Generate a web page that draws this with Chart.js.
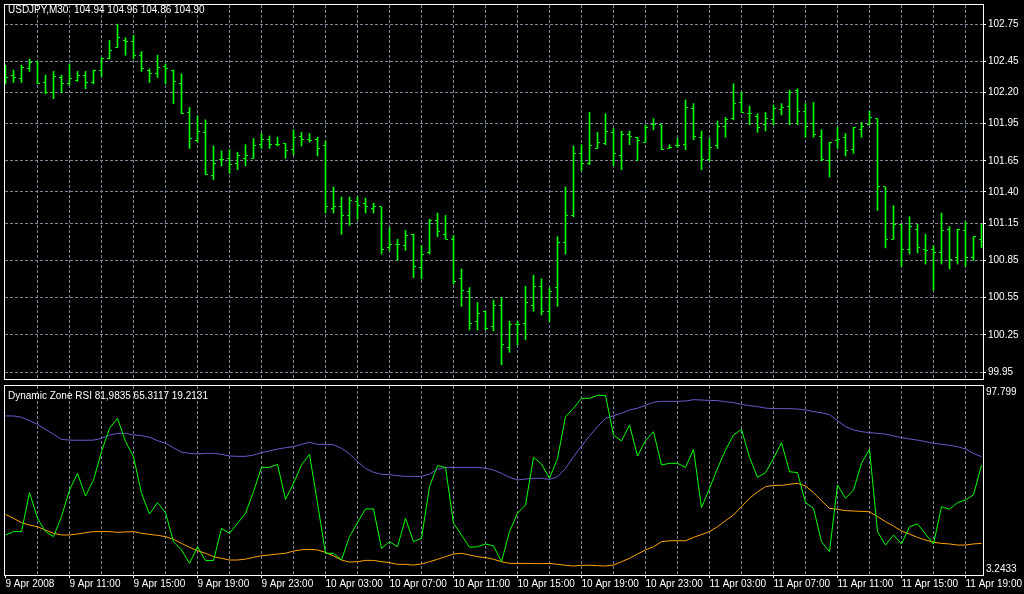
<!DOCTYPE html>
<html><head><meta charset="utf-8">
<script src="https://cdn.jsdelivr.net/npm/chart.js@4/dist/chart.umd.min.js"></script>
<style>
html,body{margin:0;padding:0;background:#000;width:1024px;height:594px;overflow:hidden}
#top{position:absolute;left:0;top:0}
#bot{position:absolute;left:0;top:384px}
.cap{position:absolute;left:8px;color:#fff;font:10px "Liberation Sans",Arial,sans-serif;line-height:12px;white-space:pre}
</style></head><body>
<canvas id="top" width="1024" height="384"></canvas>
<canvas id="bot" width="1024" height="210"></canvas>
<div class="cap" style="top:4px">USDJPY,M30  104.94 104.96 104.86 104.90</div>
<div class="cap" style="top:390px">Dynamic Zone RSI 81,9835 65.3117 19.2131</div>
<script>
const timeLabels = ["9 Apr 2008","9 Apr 11:00","9 Apr 15:00","9 Apr 19:00","9 Apr 23:00","10 Apr 03:00","10 Apr 07:00","10 Apr 11:00","10 Apr 15:00","10 Apr 19:00","10 Apr 23:00","11 Apr 03:00","11 Apr 07:00","11 Apr 11:00","11 Apr 15:00","11 Apr 19:00"];
const timeLabelBars = [0,8,16,24,32,40,48,56,64,72,80,88,96,104,112,120];
const gridBars = [4,8,12,16,20,24,28,32,36,40,44,48,52,56,60,64,68,72,76,80,84,88,92,96,100,104,108,112,116,120];
const priceTicks = [99.95,100.25,100.55,100.85,101.15,101.40,101.65,101.95,102.20,102.45,102.75];
const rsiMarks = [3.2433, 97.799];

const openP = [102.35,102.34,102.31,102.39,102.45,102.28,102.20,102.32,102.27,102.30,102.34,102.28,102.38,102.47,102.56,102.62,102.61,102.50,102.38,102.35,102.41,102.38,102.27,102.04,101.81,101.88,101.53,101.66,101.67,101.63,
101.67,101.67,101.78,101.82,101.78,101.79,101.74,101.85,101.82,101.82,101.77,101.27,101.28,101.21,101.32,101.31,101.27,101.28,100.95,100.98,100.97,101.06,100.79,100.91,101.17,101.06,101.02,100.70,100.60,100.36,
100.44,100.32,100.49,100.15,100.33,100.34,100.49,100.64,100.44,100.63,100.99,101.21,101.71,101.63,101.75,101.79,101.88,101.69,101.86,101.84,101.80,101.94,101.94,101.75,101.77,101.78,102.07,101.84,101.66,101.77,
101.93,101.99,102.12,102.03,102.01,101.94,101.98,102.06,102.09,102.22,102.05,101.95,101.85,101.65,101.81,101.84,101.74,101.90,101.94,101.99,101.44,101.02,101.14,100.94,101.10,100.94,100.94,100.91,101.10,100.87,
101.09,100.87,101.02];
const highP = [102.42,102.38,102.42,102.47,102.45,102.34,102.37,102.34,102.43,102.37,102.37,102.38,102.48,102.62,102.75,102.64,102.66,102.53,102.39,102.50,102.43,102.38,102.35,102.08,102.01,101.98,101.77,101.73,101.74,101.72,
101.78,101.83,101.87,101.85,101.84,101.79,101.90,101.88,101.87,101.84,101.81,101.44,101.36,101.36,101.36,101.35,101.31,101.28,101.11,101.02,101.09,101.06,100.97,101.18,101.23,101.21,101.05,100.78,100.63,100.51,
100.44,100.53,100.55,100.36,100.36,100.64,100.73,100.70,100.63,101.04,101.44,101.77,101.78,102.04,101.88,102.03,101.91,101.89,101.89,101.84,101.94,101.99,101.94,101.78,101.83,102.14,102.11,101.89,101.83,101.97,
102.00,102.27,102.20,102.09,102.03,102.04,102.10,102.11,102.22,102.23,102.11,102.12,101.90,101.80,101.92,101.87,101.92,101.96,102.05,101.99,101.44,101.29,101.14,101.20,101.14,101.06,100.97,101.23,101.12,101.10,
101.16,101.04,101.14];
const lowP = [102.27,102.28,102.28,102.37,102.27,102.19,102.15,102.20,102.26,102.29,102.23,102.27,102.33,102.47,102.56,102.50,102.47,102.37,102.28,102.32,102.27,102.11,102.03,101.75,101.80,101.54,101.50,101.61,101.55,101.58,
101.61,101.67,101.75,101.75,101.77,101.67,101.70,101.77,101.80,101.69,101.23,101.23,101.06,101.13,101.18,101.23,101.23,100.90,100.93,100.85,100.93,100.71,100.70,100.90,101.04,101.02,100.66,100.48,100.29,100.29,
100.29,100.28,100.01,100.11,100.17,100.21,100.44,100.41,100.36,100.48,100.90,101.20,101.57,101.62,101.75,101.78,101.61,101.58,101.78,101.65,101.80,101.90,101.74,101.75,101.76,101.74,101.82,101.58,101.65,101.75,
101.84,101.98,102.04,101.94,101.88,101.89,101.94,102.02,101.94,101.94,101.84,101.84,101.65,101.52,101.75,101.69,101.71,101.84,101.94,101.25,100.95,101.02,100.80,100.90,100.91,100.82,100.61,100.82,100.78,100.82,
100.80,100.85,100.95];
const closeP = [102.32,102.32,102.40,102.44,102.27,102.20,102.33,102.27,102.31,102.34,102.28,102.38,102.47,102.54,102.64,102.61,102.50,102.39,102.35,102.40,102.39,102.29,102.03,101.83,101.89,101.54,101.63,101.66,101.62,101.69,
101.69,101.77,101.82,101.78,101.78,101.73,101.84,101.82,101.81,101.75,101.28,101.28,101.21,101.33,101.29,101.28,101.28,100.94,100.98,100.98,101.05,100.80,100.90,101.17,101.08,101.02,100.68,100.61,100.34,100.42,
100.30,100.49,100.17,100.33,100.33,100.51,100.64,100.44,100.60,100.99,101.21,101.71,101.63,101.77,101.80,101.89,101.71,101.86,101.85,101.81,101.92,101.94,101.74,101.76,101.77,102.08,101.85,101.66,101.76,101.93,
101.98,102.11,102.04,102.03,101.92,101.99,102.07,102.08,102.20,102.05,101.93,101.86,101.66,101.80,101.82,101.73,101.92,101.93,102.00,101.44,101.02,101.14,100.94,101.12,100.95,100.93,100.91,101.09,100.86,101.10,
100.87,101.04,101.00];

const rsi = [21.4,23.2,23.2,44.0,30.3,23.2,20.5,31.2,45.4,54.3,42.2,50.8,65.9,78.4,83.7,71.3,63.2,43.6,32.6,38.7,33.3,17.8,13.4,6.2,15.1,7.7,7.7,24.9,22.3,27.6,
33.0,44.5,57.5,57.5,59.1,40.4,49.0,58.8,64.5,38.3,11.6,11.6,8.0,20.5,28.0,35.3,35.3,14.2,17.8,15.1,30.3,17.8,19.6,47.2,58.4,57.5,27.6,21.4,14.8,15.1,
16.6,15.5,7.1,23.2,33.0,37.4,62.9,59.3,51.7,62.3,84.6,89.1,94.4,94.4,96.0,96.0,74.8,71.6,80.2,63.6,71.8,76.6,58.8,59.7,59.7,57.5,67.2,36.0,46.3,57.0,
66.8,74.8,77.8,62.9,52.2,54.7,62.3,70.7,55.2,54.7,38.7,35.6,17.8,12.5,48.1,41.0,45.4,59.7,67.2,23.2,16.0,21.4,16.6,25.8,27.3,21.9,16.6,36.5,35.1,38.7,
40.1,42.8,58.8];
const upperZone = [85.0,85.0,84.3,82.5,80.5,77.8,75.2,72.5,72.1,72.0,72.0,72.1,73.0,74.8,75.7,75.7,74.8,74.5,73.6,71.8,70.4,68.0,65.6,65.0,64.7,65.0,65.0,64.5,63.6,63.4,
63.4,64.1,65.4,66.3,67.3,68.0,68.6,69.8,70.9,69.8,69.8,69.6,67.7,64.7,60.6,57.0,54.9,53.8,53.6,53.1,52.7,52.7,52.7,54.0,56.5,57.5,57.5,57.5,57.5,57.5,
57.0,56.1,54.3,52.2,50.8,51.3,51.7,51.7,51.1,52.5,57.0,63.2,68.9,74.3,79.3,83.7,85.1,86.4,88.2,89.1,90.7,92.3,92.8,92.8,92.8,93.0,93.7,93.5,93.3,93.2,
92.6,92.1,91.2,90.5,90.0,89.2,88.9,88.9,88.9,88.7,88.2,87.3,86.7,85.7,82.5,79.3,77.5,76.6,76.1,75.7,75.3,74.3,73.4,72.7,72.1,71.3,70.4,69.8,69.3,68.6,
67.3,65.0,63.2];
const lowerZone = [32.4,30.3,28.0,26.7,25.8,24.0,22.3,21.4,21.4,21.9,22.6,23.2,23.2,23.2,22.8,23.0,23.2,22.3,21.7,21.2,20.5,19.1,16.9,14.8,13.0,11.6,9.8,8.9,8.0,8.0,
8.5,9.4,10.3,10.7,11.2,11.6,12.8,13.5,13.7,13.4,12.1,10.2,8.0,6.9,7.1,7.8,7.8,7.1,6.6,5.7,5.7,5.3,5.9,7.1,8.4,9.8,11.2,11.6,10.7,9.8,
9.3,8.4,7.1,6.2,6.2,6.2,6.1,6.1,6.2,5.7,5.2,4.8,5.2,5.2,5.0,4.8,5.3,7.1,8.9,11.2,13.4,15.1,17.8,18.3,18.3,18.3,20.1,21.6,23.2,25.8,
29.0,32.1,36.5,41.0,44.4,47.2,47.9,47.9,48.5,49.0,47.6,44.0,39.7,35.6,35.1,34.4,34.2,34.0,33.8,31.2,28.5,26.2,23.5,21.9,20.1,18.7,17.5,16.9,16.6,16.0,
16.0,16.6,16.9];

const GRID = '#778899', BAR = '#00ff00', NONE = 'rgba(0,0,0,0)';
const X_MIN = -0.0625, X_MAX = 122.1875;
Chart.defaults.font.family = '"Liberation Sans", Arial, sans-serif';
Chart.defaults.font.size = 10;
Chart.defaults.color = '#fff';

function tickImg(left) {
  const c = document.createElement('canvas');
  c.width = 5; c.height = 1;
  const g = c.getContext('2d');
  g.fillStyle = BAR;
  g.fillRect(left ? 0 : 3, 0, 2, 1);
  return c;
}
const frame = {
  id: 'frame',
  afterDraw(chart) {
    const {ctx, chartArea: a} = chart;
    ctx.save();
    ctx.strokeStyle = '#fff';
    ctx.lineWidth = 1;
    ctx.strokeRect(a.left - 0.5, a.top - 0.5, a.right - a.left + 1, a.bottom - a.top + 1);
    ctx.restore();
  }
};
const xy = arr => arr.map((v, i) => ({x: i, y: v}));
const fitY = s => { s.width = 41; s.paddingTop = 0; s.paddingBottom = 0; };

new Chart(document.getElementById('top'), {
  type: 'bar',
  data: {datasets: [
    {type: 'bar', data: highP.map((h, i) => ({x: i, y: [lowP[i], h]})), backgroundColor: BAR, borderWidth: 0, barThickness: 1, grouped: false, order: 2},
    {type: 'scatter', data: xy(openP), pointStyle: tickImg(true), pointRadius: 3, order: 1},
    {type: 'scatter', data: xy(closeP), pointStyle: tickImg(false), pointRadius: 3, order: 0}
  ]},
  options: {
    responsive: false, animation: false, events: [], devicePixelRatio: 1,
    layout: {padding: {left: 5, top: 3, right: 0, bottom: 1}},
    plugins: {legend: {display: false}, tooltip: {enabled: false}},
    scales: {
      x: {type: 'linear', min: X_MIN, max: X_MAX, offset: false,
        grid: {offset: false, color: GRID, drawTicks: false},
        border: {display: false, dash: [3, 2]},
        ticks: {display: false},
        afterBuildTicks: s => { s.ticks = gridBars.map(v => ({value: v})); },
        afterFit: s => { s.height = 0; s.paddingLeft = 0; s.paddingRight = 0; }},
      y: {position: 'right', min: 99.895, max: 102.904,
        grid: {color: GRID, tickColor: '#fff', tickLength: 3, tickBorderDash: []},
        border: {display: false, dash: [3, 2]},
        ticks: {color: '#fff', padding: 2, autoSkip: false, callback: v => Number(v).toFixed(2)},
        afterBuildTicks: s => { s.ticks = priceTicks.map(v => ({value: v})); },
        afterFit: fitY}
    }
  },
  plugins: [frame]
});

new Chart(document.getElementById('bot'), {
  type: 'line',
  data: {datasets: [
    {data: xy(rsi), borderColor: '#00ff00', order: 0},
    {data: xy(upperZone), borderColor: '#6a5acd', order: 1},
    {data: xy(lowerZone), borderColor: '#ffa500', order: 2}
  ]},
  options: {
    responsive: false, animation: false, events: [], devicePixelRatio: 1,
    layout: {padding: {left: 5, top: 2, right: 0, bottom: 0}},
    elements: {line: {tension: 0, borderWidth: 1, fill: false}, point: {radius: 0}},
    plugins: {legend: {display: false}, tooltip: {enabled: false}},
    scales: {
      x: {type: 'linear', min: X_MIN, max: X_MAX, offset: false,
        grid: {offset: false, color: c => (c.tick && c.tick.value === 0) ? NONE : GRID,
          tickColor: c => (c.tick && timeLabelBars.includes(c.tick.value)) ? '#fff' : NONE,
          tickLength: 3, tickBorderDash: []},
        border: {display: false, dash: [3, 2]},
        ticks: {color: '#fff', padding: 0, autoSkip: false, maxRotation: 0, minRotation: 0, align: 'start',
          callback: v => { const k = timeLabelBars.indexOf(v); return k < 0 ? '' : timeLabels[k]; }},
        afterBuildTicks: s => { s.ticks = [0].concat(gridBars).map(v => ({value: v})); },
        afterFit: s => { s.height = 19; s.paddingLeft = 0; s.paddingRight = 0; }},
      y: {position: 'right', min: 0, max: 101,
        grid: {display: false, drawTicks: false},
        border: {display: false},
        ticks: {color: '#fff', padding: 3, autoSkip: false, callback: v => String(v)},
        afterBuildTicks: s => { s.ticks = rsiMarks.map(v => ({value: v})); },
        afterFit: fitY}
    }
  },
  plugins: [frame]
});
</script>
</body></html>
